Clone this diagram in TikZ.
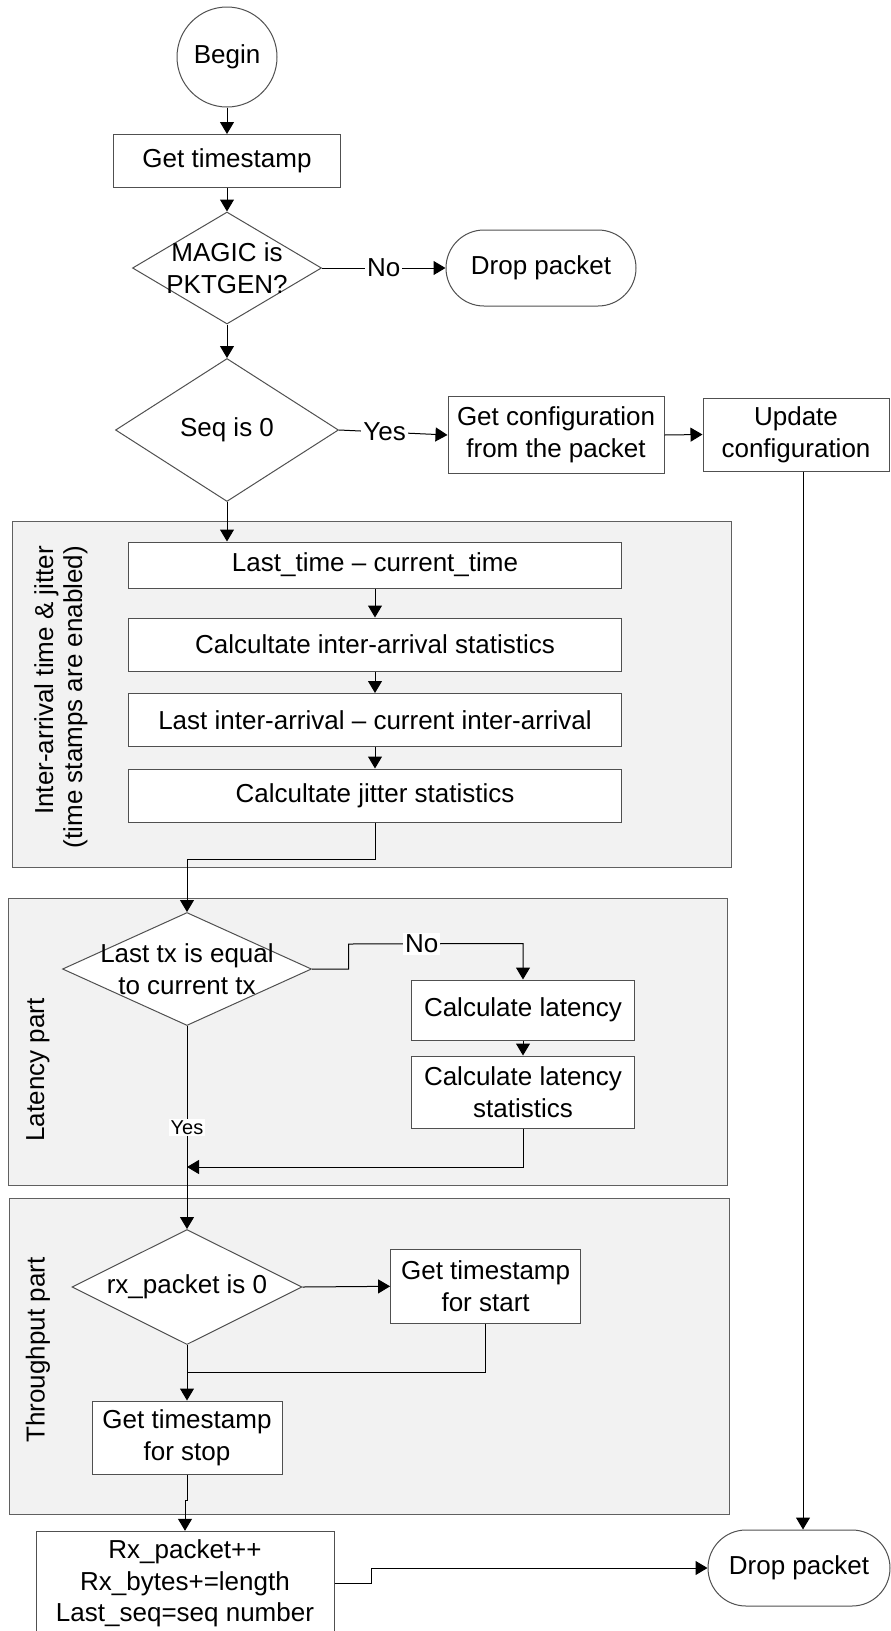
\documentclass[tikz,border=0pt]{standalone}
\usepackage{fontspec}
\setmainfont{Liberation Sans}
\usetikzlibrary{shapes.geometric,shapes.misc,arrows.meta}
\definecolor{outline}{HTML}{505050}
\definecolor{panelfill}{HTML}{F2F2F2}
\definecolor{paneledge}{HTML}{606060}
\begin{document}
\begin{tikzpicture}[x=1pt,y=-1pt,
  every node/.style={font=\fontsize{26}{31.7}\selectfont},
  base/.style={draw=outline, line width=1pt, fill=white, inner sep=0pt},
  stepbox/.style={base, rectangle, align=center},
  decision/.style={base, diamond},
  terminal/.style={base, rounded rectangle, minimum width=190pt, minimum height=76pt, align=center},
  startnode/.style={base, circle, minimum size=100pt},
  txt/.style={align=center, inner sep=0pt},
  panel/.style={draw=paneledge, line width=1pt, fill=panelfill, inner sep=0pt},
  arr/.style={line width=1pt, -{Triangle[length=12pt,width=14pt]}},
  link/.style={line width=1pt},
  lbl/.style={fill=white, inner sep=2pt},
  smalllbl/.style={fill=white, inner sep=2pt, font=\fontsize{20}{24}\selectfont},
  sidelabel/.style={rotate=90, align=center, font=\fontsize{26}{29}\selectfont},
]
\useasboundingbox (0,0) rectangle (891,1631);
\fill[white] (0,0) rectangle (891,1631);

% --- entry and configuration ---
\node[startnode] (begin) at (227,57) {Begin};
\node[stepbox, minimum width=227pt, minimum height=53pt] (ts) at (227,161) {Get timestamp};
\node[decision, minimum width=189pt, minimum height=112pt] (magic) at (227,268) {};
\node[txt] (magict) at (magic.center) {MAGIC is\\PKTGEN?};
\node[terminal] (drop1) at (541,268) {Drop packet};
\node[decision, minimum width=223pt, minimum height=143pt] (seq) at (227,430) {};
\node[txt] (seqt) at (seq.center) {Seq is 0};
\node[stepbox, minimum width=216pt, minimum height=77pt] (cfg) at (556,435) {Get configuration\\from the packet};
\node[stepbox, minimum width=186pt, minimum height=73pt] (upd) at (796,434.5) {Update\\configuration};

% --- inter-arrival time and jitter ---
\node[panel, minimum width=719pt, minimum height=346pt] (p1) at (371.5,694) {};
\node[sidelabel, align=right] (p1t) at (61,697) {Inter-arrival time \& jitter\\(time stamps are enabled)};
\node[stepbox, minimum width=493pt, minimum height=46pt] (lt) at (375,565) {Last\_time \textendash{} current\_time};
\node[stepbox, minimum width=493pt, minimum height=53pt] (ias) at (375,644.5) {Calcultate inter-arrival statistics};
\node[stepbox, minimum width=493pt, minimum height=53pt] (lia) at (375,720) {Last inter-arrival \textendash{} current inter-arrival};
\node[stepbox, minimum width=493pt, minimum height=53pt] (jit) at (375,795.5) {Calcultate jitter statistics};

% --- latency ---
\node[panel, minimum width=718.5pt, minimum height=286.5pt] (p2) at (367.75,1041.75) {};
\node[sidelabel] (p2t) at (38,1070) {Latency part};
\node[decision, minimum width=249pt, minimum height=113pt] (lat) at (187,969) {};
\node[txt] (latt) at (lat.center) {Last tx is equal\\to current tx};
\node[stepbox, minimum width=223pt, minimum height=60pt] (calc) at (523,1010) {Calculate latency};
\node[stepbox, minimum width=223pt, minimum height=72pt] (calcs) at (523,1092) {Calculate latency\\statistics};

% --- throughput ---
\node[panel, minimum width=720pt, minimum height=315.5pt] (p3) at (369,1356.25) {};
\node[sidelabel] (p3t) at (38,1350) {Throughput part};
\node[decision, minimum width=230pt, minimum height=115pt] (rx) at (187,1287) {};
\node[txt] (rxt) at (rx.center) {rx\_packet is 0};
\node[stepbox, minimum width=190pt, minimum height=74pt] (start) at (485.6,1286.3) {Get timestamp\\for start};
\node[stepbox, minimum width=190pt, minimum height=73pt] (stop) at (187,1437.5) {Get timestamp\\for stop};

% --- counters and exit ---
\node[stepbox, minimum width=298pt, minimum height=104pt] (rxb) at (185,1583.3) {Rx\_packet++\\Rx\_bytes+=length\\Last\_seq=seq number};
\node[terminal, minimum width=182pt] (drop2) at (799,1568) {Drop packet};

% --- connectors ---
\draw[arr] (begin.south) -- (ts.north);
\draw[arr] (ts.south) -- (magic.north);
\draw[arr] (magic.east) -- node[lbl]{No} (drop1.west);
\draw[arr] (magic.south) -- (seq.north);
\draw[arr] (seq.east) -- node[lbl,pos=0.42]{Yes} (cfg.west);
\draw[arr] (cfg.east) -- (upd.west);
\coordinate (rail) at (803,0);
\draw[arr] (upd.south -| rail) -- (drop2.north -| rail);

\draw[arr] (seq.south) -- (seq.south |- lt.north);
\draw[arr] (lt.south) -- (ias.north);
\draw[arr] (ias.south) -- (lia.north);
\draw[arr] (lia.south) -- (jit.north);
\draw[arr] (jit.south) -- ++(0,37) -| (lat.north);

\draw[arr] (lat.east) -- ++(36.5,0) -- ++(0,-25) -- node[lbl,pos=0.42]{No} ([yshift=36pt]calc.north) -- (calc.north);
\draw[arr] (calc.south) -- (calcs.north);
\draw[arr] (calcs.south) |- ([yshift=-38.5pt]calcs.south -| lat.south);
\draw[arr] (lat.south) -- node[smalllbl]{Yes} (rx.north);

\draw[arr] (rx.east) -- (start.west);
\draw[link] (start.south) |- ([yshift=-49pt]start.south -| rx.south);
\draw[arr] (rx.south) -- (stop.north);
\draw[arr] (stop.south) -- ++(0,26) -| (rxb.north);
\draw[arr] (rxb.east) -- ++(37,0) |- (drop2.west);
\end{tikzpicture}
\end{document}
